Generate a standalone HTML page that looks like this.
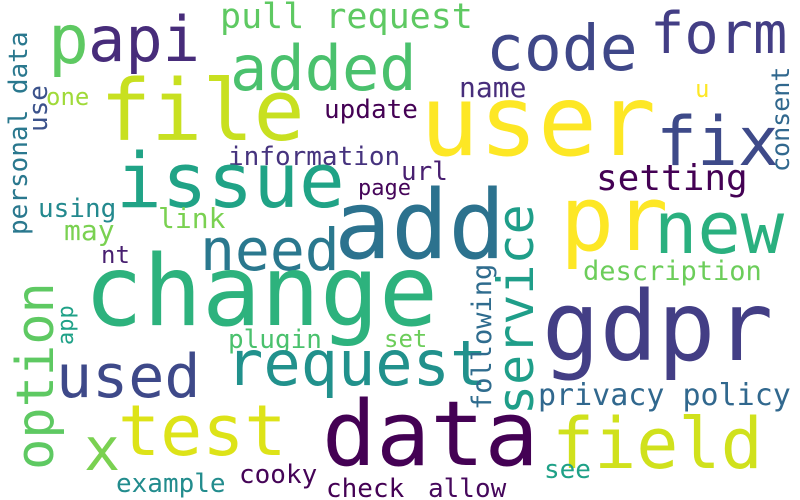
<!DOCTYPE html>
<html><head><meta charset="utf-8"><style>
html,body{margin:0;padding:0;background:#fff;}
svg{display:block;}
text{font-family:"DejaVu Sans Mono","Liberation Mono",monospace;}
</style></head>
<body>
<svg id="cloud" width="800" height="500" viewBox="0 0 800 500" xmlns="http://www.w3.org/2000/svg">
<rect width="800" height="500" fill="#ffffff"/>
</svg>
<script>
const words = ["p","api","pull request","added","code","form","file","user","fix","name","u","update","one","information","issue","setting","url","page","using","link","may","add","need","pr","new","nt","change","description","plugin","set","gdpr","request","used","privacy policy","x","test","data","field","example","cooky","check","allow","see","personal data","use","option","app","service","following","consent"];
const sizes = [68,62,35,62,63,57,85,98,68,28,24,26,24,26,76,36,26,22,26,28,28,95,58,90,72,24,98,27,26,24,96,62,60,30,60,70,90,70,26,26,26,26,26,26,26,52,22,50,27,25];
const colors = ["#5ec962","#472c7a","#5ec962","#4ac16d","#3f4788","#433e85","#c8e020","#fde725","#3e4a89","#472d7b","#fde725","#440154","#a0da39","#46337e","#20a386","#440154","#481f70","#450559","#23898e","#7ad151","#7ad151","#2c728e","#2a788e","#fde725","#2ab07f","#481f70","#2db27d","#6ccd5a","#4ac16d","#6ccd5a","#433e85","#21918c","#3e4989","#31688e","#7ad151","#dde318","#440154","#d0e11c","#228c8d","#450457","#440154","#46085c","#1fa187","#2a788e","#3b528b","#5ec962","#1fa187","#1f9e89","#2f6c8e","#31688e"];
const xs = [48,88,220,230,486,650,100,420,656,459,695,324,46,228,116,596,401,358,38,158,64,334,200,560,654,101,84,583,228,384,542,226,56,538,84,118,322,552,116,239,326,428,544,27,47,53,73,533,491,789];
const ys = [63,61,28,90,70,53,140,155,165,97,97,118,105,165,207,190,180,195,217,228,240,258,270,250,253,263,325,280,348,347,360,385,397,405,470,455,465,468,492,483,497,497,478,235,132,470,345,415,410,172];
const rots = [0,0,0,0,0,0,0,0,0,0,0,0,0,0,0,0,0,0,0,0,0,0,0,0,0,0,0,0,0,0,0,0,0,0,0,0,0,0,0,0,0,0,0,-90,-90,-90,-90,-90,-90,-90];
const svg = document.getElementById('cloud');
const NS = "http://www.w3.org/2000/svg";
for (let i = 0; i < words.length; i++) {
  const t = document.createElementNS(NS, 'text');
  
  
  t.setAttribute('font-size', sizes[i]);
  t.setAttribute('fill', colors[i]);
  t.setAttribute('x', 0);
  t.setAttribute('y', 0);
  t.setAttribute('transform', 'translate(' + xs[i] + ',' + ys[i] + ') rotate(' + rots[i] + ')');
  t.textContent = words[i];
  svg.appendChild(t);
}
</script>
</body></html>
